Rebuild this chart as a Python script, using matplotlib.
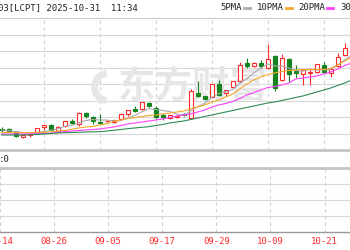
import numpy as np
import matplotlib.pyplot as plt
from matplotlib.patches import Rectangle, Wedge

# 画布尺寸 (像素)
W, H = 350, 250

# K线数据 (从截图估读)
opens = [3.21, 3.205, 3.173, 3.135, 3.152, 3.18, 3.23, 3.25, 3.19, 3.24,
         3.29, 3.26, 3.37, 3.33, 3.28, 3.287, 3.28, 3.31, 3.36, 3.41,
         3.41, 3.47, 3.423, 3.35, 3.32, 3.33, 3.36, 3.32, 3.57, 3.54,
         3.53, 3.66, 3.57, 3.63, 3.69, 3.87, 3.84, 3.87, 3.82, 3.94,
         3.70, 3.91, 3.79, 3.76, 3.77, 3.78, 3.85, 3.77, 3.84, 3.95]
highs = [3.23, 3.225, 3.18, 3.155, 3.165, 3.225, 3.25, 3.26, 3.24, 3.29,
         3.31, 3.38, 3.385, 3.34, 3.36, 3.30, 3.305, 3.365, 3.405, 3.44,
         3.485, 3.485, 3.44, 3.36, 3.355, 3.35, 3.37, 3.61, 3.69, 3.545,
         3.665, 3.705, 3.605, 3.695, 3.88, 3.92, 3.88, 3.90, 4.06, 3.95,
         3.96, 3.92, 3.85, 3.81, 3.82, 3.865, 3.88, 3.82, 3.97, 4.07]
lows = [3.18, 3.18, 3.13, 3.115, 3.13, 3.175, 3.205, 3.20, 3.185, 3.235,
        3.265, 3.24, 3.32, 3.265, 3.26, 3.28, 3.275, 3.305, 3.34, 3.385,
        3.405, 3.43, 3.31, 3.30, 3.315, 3.32, 3.34, 3.31, 3.535, 3.505,
        3.525, 3.54, 3.54, 3.62, 3.685, 3.82, 3.83, 3.82, 3.815, 3.59,
        3.695, 3.68, 3.72, 3.65, 3.65, 3.775, 3.77, 3.73, 3.835, 3.945]
closes = [3.20, 3.195, 3.14, 3.15, 3.16, 3.22, 3.245, 3.205, 3.23, 3.285,
          3.27, 3.37, 3.34, 3.29, 3.27, 3.293, 3.30, 3.36, 3.40, 3.39,
          3.48, 3.44, 3.333, 3.33, 3.35, 3.34, 3.35, 3.59, 3.54, 3.51,
          3.66, 3.55, 3.60, 3.69, 3.85, 3.84, 3.87, 3.84, 3.91, 3.62,
          3.92, 3.76, 3.77, 3.80, 3.78, 3.86, 3.78, 3.81, 3.93, 4.02]

# 均线 (多一个点延伸到右边缘)
ma5 = [3.20, 3.195, 3.185, 3.175, 3.17, 3.173, 3.183, 3.196, 3.212, 3.237,
       3.247, 3.272, 3.295, 3.305, 3.30, 3.30, 3.29, 3.295, 3.32, 3.345,
       3.38, 3.414, 3.405, 3.395, 3.385, 3.36, 3.345, 3.392, 3.434, 3.466,
       3.525, 3.565, 3.58, 3.605, 3.665, 3.71, 3.77, 3.818, 3.86, 3.84,
       3.84, 3.82, 3.80, 3.79, 3.805, 3.80, 3.80, 3.81, 3.85, 3.90, 3.95]
ma10 = [3.175, 3.175, 3.175, 3.174, 3.174, 3.175, 3.177, 3.18, 3.188, 3.195,
        3.207, 3.22, 3.23, 3.235, 3.25, 3.265, 3.285, 3.30, 3.315, 3.325,
        3.335, 3.345, 3.35, 3.36, 3.37, 3.38, 3.39, 3.41, 3.43, 3.45,
        3.48, 3.50, 3.53, 3.56, 3.61, 3.66, 3.70, 3.73, 3.755, 3.77,
        3.785, 3.795, 3.80, 3.805, 3.805, 3.805, 3.805, 3.815, 3.85, 3.89, 3.93]
ma20 = [3.16, 3.16, 3.16, 3.16, 3.16, 3.162, 3.165, 3.168, 3.175, 3.185,
        3.19, 3.195, 3.20, 3.205, 3.21, 3.22, 3.23, 3.245, 3.26, 3.27,
        3.28, 3.29, 3.30, 3.31, 3.325, 3.34, 3.35, 3.36, 3.38, 3.40,
        3.43, 3.45, 3.465, 3.485, 3.515, 3.55, 3.575, 3.60, 3.625, 3.635,
        3.65, 3.67, 3.71, 3.72, 3.73, 3.74, 3.76, 3.78, 3.81, 3.845, 3.87]
ma30 = [3.15, 3.15, 3.15, 3.15, 3.152, 3.155, 3.16, 3.165, 3.17, 3.173,
        3.175, 3.177, 3.18, 3.182, 3.183, 3.19, 3.197, 3.205, 3.213, 3.22,
        3.227, 3.233, 3.245, 3.255, 3.27, 3.28, 3.29, 3.305, 3.32, 3.335,
        3.35, 3.365, 3.38, 3.395, 3.41, 3.425, 3.44, 3.455, 3.47, 3.48,
        3.495, 3.51, 3.525, 3.54, 3.56, 3.58, 3.60, 3.62, 3.645, 3.67, 3.70]

tick_pos = [-2, 6, 14, 22, 30, 38, 46]
tick_labels = ['08-14', '08-26', '09-05', '09-17', '09-29', '10-09', '10-21']

ma_names = ['5PMA', '10PMA', '20PMA', '30PMA']
ma_colors = ['#aaaaaa', '#f4a62a', '#ff40ff', '#2e8b57']

RED = '#ff2a2a'
GREEN = '#14851e'
GRID = '#d8d8d8'
MARK = '#e6e6e6'
MONO = 'DejaVu Sans Mono'

fig = plt.figure(figsize=(W / 100, H / 100), dpi=100)
fig.patch.set_facecolor('white')


def fx(px):
    return px / W


def fy(py):
    return 1 - py / H


x_lo = -1.7 / 7
x_hi = (W - 1.7) / 7
y_lo, y_hi = 3.00, 4.32

# 主图
ax = fig.add_axes([0, fy(150), 1, (150 - 18) / H])
ax.set_xlim(x_lo, x_hi)
ax.set_ylim(y_lo, y_hi)
for yv in np.linspace(y_lo, y_hi, 9)[1:-1]:
    ax.axhline(yv, color=GRID, lw=0.8, zorder=0.2)
for tp in tick_pos:
    ax.axvline(tp, color='#d0d0d0', lw=0.8, ls=(0, (3, 3)), zorder=0.3)

# 水印
ax.text(fx(193), fy(87), '东方财富', transform=fig.transFigure, ha='center', va='center',
        fontsize=27, fontweight='bold', color=MARK, family='Noto Sans CJK SC', zorder=0.4)
ax.add_patch(Wedge((1.08, (H - 87) / 100), 0.17, 95, 265, width=0.07,
                   transform=fig.dpi_scale_trans, facecolor=MARK, edgecolor='none',
                   zorder=0.4, clip_on=False))

idx = np.arange(len(closes))
bw = 0.62
for i in idx:
    o, h, l, c = opens[i], highs[i], lows[i], closes[i]
    up = c >= o
    col = RED if up else GREEN
    ax.plot([i, i], [l, h], color=col, lw=0.8, zorder=2, solid_capstyle='butt')
    bot = min(o, c)
    hgt = max(abs(c - o), 0.004)
    ax.add_patch(Rectangle((i - bw / 2, bot), bw, hgt,
                           facecolor='white' if up else GREEN,
                           edgecolor=col, lw=0.8, zorder=3))

ma_x = np.arange(len(ma5))
for vals, col in zip([ma5, ma10, ma20, ma30], ma_colors):
    ax.plot(ma_x, vals, color=col, lw=0.8, zorder=4)

for s in ['left', 'right']:
    ax.spines[s].set_visible(False)
ax.spines['top'].set_color('#cccccc')
ax.spines['top'].set_linewidth(0.8)
ax.spines['bottom'].set_color('#c4c4c4')
ax.spines['bottom'].set_linewidth(2)
ax.set_xticks([])
ax.set_yticks([])

# 副图 (空)
ax2 = fig.add_axes([0, fy(232), 1, (232 - 168) / H])
ax2.set_xlim(x_lo, x_hi)
ax2.set_ylim(0, 4)
for yv in [1, 2, 3]:
    ax2.axhline(yv, color=GRID, lw=0.8, zorder=0.2)
for tp in tick_pos:
    ax2.axvline(tp, color='#d0d0d0', lw=0.8, ls=(0, (3, 3)), zorder=0.3)
for s in ['left', 'right']:
    ax2.spines[s].set_visible(False)
ax2.spines['top'].set_color('#c4c4c4')
ax2.spines['top'].set_linewidth(2)
ax2.spines['bottom'].set_color('#999999')
ax2.spines['bottom'].set_linewidth(1)
ax2.set_yticks([])
ax2.set_xticks(tick_pos)
ax2.set_xticklabels(tick_labels, color=RED, fontsize=6.5, family=MONO)
ax2.tick_params(axis='x', length=0, pad=3.5)

# 标题与图例
fig.text(fx(-2), fy(8), '03[LCPT] 2025-10-31  11:34', ha='left', va='center',
         fontsize=6.5, family=MONO, color='#222222')
fig.text(fx(-1), fy(160), ':0', ha='left', va='center', fontsize=6.5, family=MONO, color='#222222')

leg_x = [220, 257, 298, 340]
for name, col, lx in zip(ma_names, ma_colors, leg_x):
    fig.text(fx(lx), fy(8), name, ha='left', va='center', fontsize=6.5, family=MONO, color='#222222')
    mx = lx + len(name) * 5.4 + 2
    fig.add_artist(plt.Line2D([fx(mx), fx(mx + 6)], [fy(8), fy(8)], color=col, lw=2))

fig.savefig('out.png', dpi=100, facecolor='white')
